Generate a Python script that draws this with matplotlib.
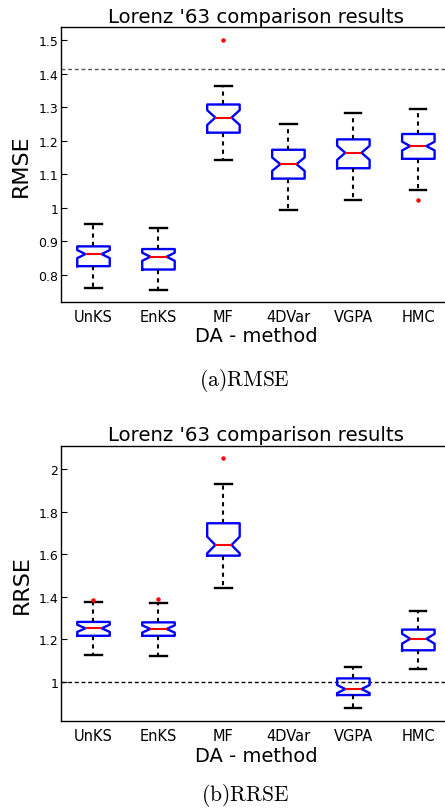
import numpy as np
import matplotlib
matplotlib.use("Agg")
from matplotlib import pyplot as plt

methods = ['UnKS', 'EnKS', 'MF', '4DVar', 'VGPA', 'HMC']

# RMSE box statistics
rmse_med = [0.862, 0.854, 1.269, 1.130, 1.164, 1.184]
rmse_q1 = [0.826, 0.816, 1.224, 1.087, 1.118, 1.146]
rmse_q3 = [0.885, 0.877, 1.308, 1.173, 1.204, 1.220]
rmse_lo = [0.762, 0.755, 1.143, 0.993, 1.023, 1.054]
rmse_hi = [0.951, 0.939, 1.362, 1.249, 1.284, 1.295]
rmse_ci = [0.012, 0.012, 0.022, 0.020, 0.021, 0.013]
rmse_fliers = [[], [], [1.50], [], [], [1.023]]
rmse_ref = 1.4142

# RRSE box statistics (no 4DVar box)
rrse_med = [1.252, 1.249, 1.643, None, 0.967, 1.203]
rrse_q1 = [1.217, 1.217, 1.593, None, 0.939, 1.149]
rrse_q3 = [1.282, 1.280, 1.745, None, 1.017, 1.246]
rrse_lo = [1.128, 1.123, 1.443, None, 0.877, 1.061]
rrse_hi = [1.377, 1.372, 1.928, None, 1.070, 1.332]
rrse_ci = [0.017, 0.017, 0.039, None, 0.019, 0.023]
rrse_fliers = [[1.386], [1.390], [2.050], [], [], []]
rrse_ref = 1.0


def make_stats(med, q1, q3, lo, hi, ci, fl):
    stats, pos = [], []
    for i in range(len(med)):
        if med[i] is None:
            continue
        stats.append(dict(med=med[i], q1=q1[i], q3=q3[i], whislo=lo[i], whishi=hi[i],
                          cilo=med[i] - ci[i], cihi=med[i] + ci[i], fliers=fl[i]))
        pos.append(i + 1)
    return stats, pos


def draw(ax, stats, pos, ref, ref_color, ylabel, ylim, yticks, yticklabels):
    ax.bxp(stats, positions=pos, widths=0.5, shownotches=True,
           boxprops=dict(color='blue', linewidth=1.7),
           medianprops=dict(color='red', linewidth=1.5),
           whiskerprops=dict(color='black', linewidth=1.5, linestyle=(0, (2, 2))),
           capprops=dict(color='black', linewidth=1.7),
           flierprops=dict(marker='o', markerfacecolor='red', markeredgecolor='red',
                           markersize=2.2, linestyle='none'))
    ax.axhline(ref, color=ref_color, linewidth=1.0, linestyle=(0, (2.8, 2.0)), zorder=0)
    ax.set_xlim(0.5, 6.5)
    ax.set_ylim(*ylim)
    ax.set_xticks(range(1, 7))
    ax.set_xticklabels(methods, fontsize=10.5)
    ax.set_yticks(yticks)
    ax.set_yticklabels(yticklabels, fontsize=9)
    ax.tick_params(axis='x', length=0, pad=5)
    ax.tick_params(axis='y', direction='in', length=4, right=True, pad=2)
    ax.set_title("Lorenz '63 comparison results", fontsize=14.2, pad=4)
    ax.set_xlabel('DA - method', fontsize=14, labelpad=2)
    ax.set_ylabel(ylabel, fontsize=16, labelpad=5)
    for s in ax.spines.values():
        s.set_linewidth(1.0)


fig = plt.figure(figsize=(4.45, 8.12), dpi=100)
plt.rcParams['mathtext.fontset'] = 'cm'

ax1 = fig.add_axes([0.1371, 0.6272, 0.876, 0.3379])
s, p = make_stats(rmse_med, rmse_q1, rmse_q3, rmse_lo, rmse_hi, rmse_ci, rmse_fliers)
draw(ax1, s, p, rmse_ref, '#555555', 'RMSE', (0.72, 1.538),
     [0.8, 0.9, 1.0, 1.1, 1.2, 1.3, 1.4, 1.5],
     ['0.8', '0.9', '1', '1.1', '1.2', '1.3', '1.4', '1.5'])

ax2 = fig.add_axes([0.1371, 0.1108, 0.876, 0.3391])
s, p = make_stats(rrse_med, rrse_q1, rrse_q3, rrse_lo, rrse_hi, rrse_ci, rrse_fliers)
draw(ax2, s, p, rrse_ref, 'black', 'RRSE', (0.817, 2.109),
     [1.0, 1.2, 1.4, 1.6, 1.8, 2.0],
     ['1', '1.2', '1.4', '1.6', '1.8', '2'])

fig.text(244 / 445, 1 - 381 / 812, r'$\mathrm{(a)RMSE}$', ha='center', va='center', fontsize=15.5)
fig.text(245 / 445, 1 - 796 / 812, r'$\mathrm{(b)RRSE}$', ha='center', va='center', fontsize=15.5)

fig.savefig('out.png', dpi=100)
